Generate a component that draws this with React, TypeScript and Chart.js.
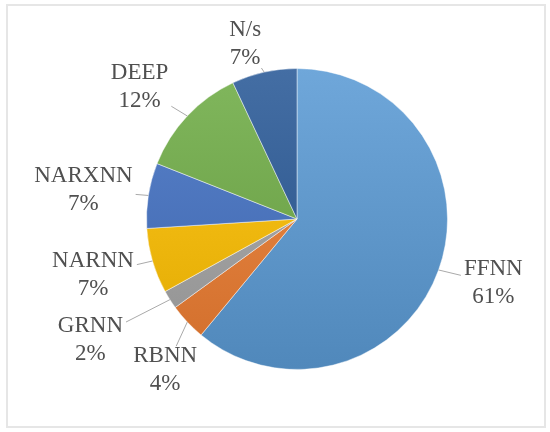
import React, { useEffect, useRef } from 'react';
import { Chart, registerables } from 'chart.js';

Chart.register(...registerables);

// ---- data ----
const categories = ['FFNN', 'RBNN', 'GRNN', 'NARNN', 'NARXNN', 'DEEP', 'N/s'];
const shares = [61, 4, 2, 7, 7, 12, 7];
const percentLabels = ['61%', '4%', '2%', '7%', '7%', '12%', '7%'];

// ---- styling ----
const baseColors = ['#5B9BD5', '#ED7D31', '#A5A5A5', '#FFC000', '#4472C4', '#70AD47', '#2A5A98'];
// label placement: extra distance beyond rim (px) and angular shift (deg) from slice middle
const labelGap = [56, 50, 89, 61, 65, 55, 32];
const labelTurn = [-1.7, -5.7, 2, 0.9, -1.3, -3.2, -3.9];

function mix(hex: string, target: number, amt: number): string {
  const n = parseInt(hex.slice(1), 16);
  const r = (n >> 16) & 255, g = (n >> 8) & 255, b = n & 255;
  const f = (c: number) => Math.round(c + (target - c) * amt);
  return `rgb(${f(r)},${f(g)},${f(b)})`;
}

const framePlugin = {
  id: 'frame',
  beforeDraw(chart: any) {
    const ctx = chart.ctx;
    ctx.save();
    ctx.fillStyle = '#ffffff';
    ctx.fillRect(0, 0, chart.width, chart.height);
    ctx.strokeStyle = '#e6e6e6';
    ctx.lineWidth = 2;
    ctx.strokeRect(7, 5, 538, 422);
    ctx.restore();
  },
};

const labelPlugin = {
  id: 'outsideLabels',
  afterDatasetsDraw(chart: any) {
    const ctx = chart.ctx;
    const meta = chart.getDatasetMeta(0);
    ctx.save();
    ctx.font = '23px "Liberation Serif", "Times New Roman", serif';
    ctx.textAlign = 'center';
    ctx.textBaseline = 'middle';
    const lh = 28;
    meta.data.forEach((arc: any, i: number) => {
      const { x, y, startAngle, endAngle, outerRadius } = arc.getProps(
        ['x', 'y', 'startAngle', 'endAngle', 'outerRadius'],
        true
      );
      const mid = (startAngle + endAngle) / 2;
      const ax = x + Math.cos(mid) * outerRadius;
      const ay = y + Math.sin(mid) * outerRadius;
      const la = mid + (labelTurn[i] * Math.PI) / 180;
      const lr = outerRadius + labelGap[i];
      const lx = x + Math.cos(la) * lr;
      const ly = y + Math.sin(la) * lr;
      const lines = [categories[i], percentLabels[i]];
      const w = Math.max(...lines.map((t) => ctx.measureText(t).width));
      const hw = w / 2 + 3;
      const hh = lh / 2 + 10;
      const dx = lx - ax, dy = ly - ay;
      const k = Math.min(
        Math.abs(dx) > 1e-6 ? hw / Math.abs(dx) : Infinity,
        Math.abs(dy) > 1e-6 ? hh / Math.abs(dy) : Infinity
      );
      const s = 1 - k;
      if (s > 0) {
        ctx.strokeStyle = '#aaaaaa';
        ctx.lineWidth = 1;
        ctx.beginPath();
        ctx.moveTo(ax, ay);
        ctx.lineTo(ax + dx * s, ay + dy * s);
        ctx.stroke();
      }
      ctx.fillStyle = '#505050';
      ctx.fillText(lines[0], lx, ly - lh / 2);
      ctx.fillText(lines[1], lx, ly + lh / 2);
    });
    ctx.restore();
  },
};

export default function App() {
  const canvasRef = useRef<HTMLCanvasElement | null>(null);

  useEffect(() => {
    const canvas = canvasRef.current;
    if (!canvas) return;
    const chart = new Chart(canvas, {
      type: 'pie',
      data: {
        labels: categories,
        datasets: [
          {
            data: shares,
            backgroundColor: (c: any) => {
              const ch = c.chart;
              const area = ch.chartArea;
              const base = baseColors[c.dataIndex % baseColors.length];
              if (!area) return base;
              const g = ch.ctx.createLinearGradient(0, area.top, 0, area.bottom);
              g.addColorStop(0, mix(base, 255, 0.12));
              g.addColorStop(1, mix(base, 0, 0.12));
              return g;
            },
            borderColor: 'rgba(255,255,255,0.45)',
            borderWidth: 1,
          },
        ],
      },
      options: {
        responsive: false,
        animation: false,
        layout: { padding: { left: 146, right: 102, top: 68, bottom: 62 } },
        plugins: {
          legend: { display: false },
          tooltip: { enabled: false },
        },
      },
      plugins: [framePlugin, labelPlugin],
    });
    return () => chart.destroy();
  }, []);

  return (
    <div style={{ position: 'fixed', left: 0, top: 0, width: 550, height: 432 }}>
      <canvas ref={canvasRef} width={550} height={432} />
    </div>
  );
}
